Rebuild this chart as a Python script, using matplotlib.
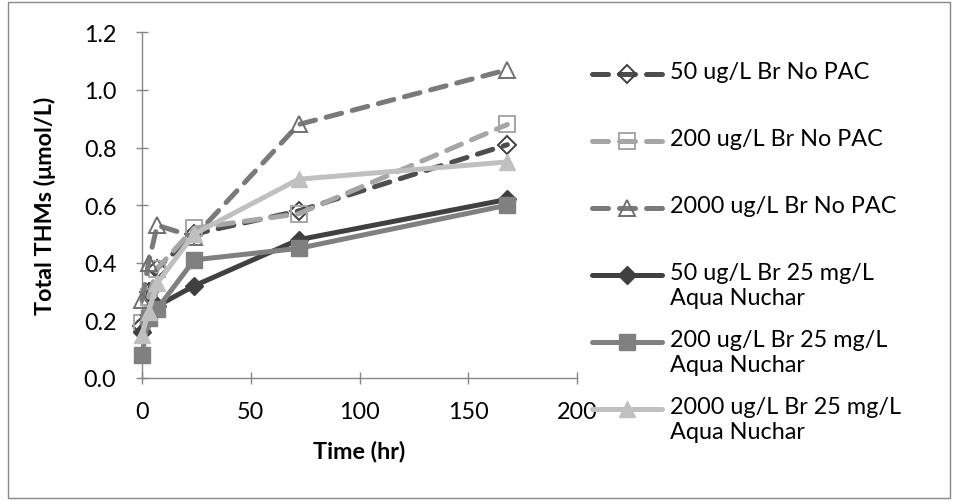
import matplotlib
matplotlib.use("Agg")
import matplotlib.pyplot as plt
from matplotlib.lines import Line2D
from matplotlib.patches import Rectangle

# ---- data ----
time_hr = [0, 3, 7, 24, 72, 168]
labels = [
    "50 ug/L Br No PAC",
    "200 ug/L Br No PAC",
    "2000 ug/L Br No PAC",
    "50 ug/L Br 25 mg/L\nAqua Nuchar",
    "200 ug/L Br 25 mg/L\nAqua Nuchar",
    "2000 ug/L Br 25 mg/L\nAqua Nuchar",
]
br50_nopac = [0.18, 0.30, 0.38, 0.50, 0.58, 0.81]
br200_nopac = [0.19, 0.28, 0.38, 0.52, 0.57, 0.88]
br2000_nopac = [0.27, 0.40, 0.53, 0.49, 0.88, 1.07]
br50_pac = [0.16, 0.22, 0.25, 0.32, 0.48, 0.62]
br200_pac = [0.08, 0.21, 0.24, 0.41, 0.45, 0.60]
br2000_pac = [0.15, 0.23, 0.33, 0.50, 0.69, 0.75]
series = [br50_nopac, br200_nopac, br2000_nopac, br50_pac, br200_pac, br2000_pac]

x_ticks = [0, 50, 100, 150, 200]
y_ticks = [0.0, 0.2, 0.4, 0.6, 0.8, 1.0, 1.2]

# ---- styles ----
styles = [
    dict(color="#4d4d4d", ls=(0, (3.2, 2.2)), marker="D", ms=9, mfc="none", mec="#404040", mew=1.4),
    dict(color="#a6a6a6", ls=(0, (3.2, 2.2)), marker="s", ms=11, mfc="none", mec="#a6a6a6", mew=1.4),
    dict(color="#7a7a7a", ls=(0, (3.2, 2.2)), marker="^", ms=11, mfc="none", mec="#707070", mew=1.4),
    dict(color="#404040", ls="-", marker="D", ms=9, mfc="#404040", mec="#404040", mew=1),
    dict(color="#808080", ls="-", marker="s", ms=11, mfc="#808080", mec="#808080", mew=1),
    dict(color="#c0c0c0", ls="-", marker="^", ms=11, mfc="#c0c0c0", mec="#c0c0c0", mew=1),
]

plt.rcParams["font.family"] = ["Lato", "DejaVu Sans"]
FS = 16.8

W, H = 957, 502
fig = plt.figure(figsize=(W / 100, H / 100), dpi=100)
fig.patch.set_facecolor("white")

def fx(px):
    return px / W

def fy(py):
    return 1 - py / H

# outer border
fig.patches.append(Rectangle((fx(8), fy(499)), fx(950) - fx(8), fy(3) - fy(499),
                             transform=fig.transFigure, fill=False, ec="#888888", lw=1.0))

ax = fig.add_axes([fx(142), fy(379), fx(577) - fx(142), fy(33.3) - fy(379)])
ax.set_xlim(0, 200)
ax.set_ylim(0, 1.2)

for vals, st in zip(series, styles):
    ax.plot(time_hr, vals, color=st["color"], ls=st["ls"], lw=3.6,
            dash_capstyle="round", solid_capstyle="round",
            marker=st["marker"], ms=st["ms"], mfc=st["mfc"], mec=st["mec"], mew=st["mew"],
            clip_on=False, zorder=3)

for s in ["top", "right"]:
    ax.spines[s].set_visible(False)
for s in ["left", "bottom"]:
    ax.spines[s].set_color("#868686")
    ax.spines[s].set_linewidth(1.0)

ax.set_xticks(x_ticks)
ax.set_yticks(y_ticks)
ax.set_yticklabels([f"{v:.1f}" for v in y_ticks])
ax.tick_params(direction="inout", length=9, width=1.0, color="#868686",
               labelsize=FS, labelcolor="black")
ax.tick_params(axis="x", pad=12)
ax.tick_params(axis="y", pad=14)
ax.set_xlabel("Time (hr)", fontsize=FS, fontweight="bold")
ax.set_ylabel("Total THMs (\u03bcmol/L)", fontsize=FS, fontweight="bold")
ax.xaxis.set_label_coords(0.5, (fy(452) - fy(379)) / (fy(33.3) - fy(379)))
ax.yaxis.set_label_coords((fx(45) - fx(142)) / (fx(577) - fx(142)), 0.5)
ax.xaxis.label.set_va("center")
ax.yaxis.label.set_va("center")

# ---- legend (drawn manually) ----
for i, (lab, st) in enumerate(zip(labels, styles)):
    yc = 75 + 67 * i
    x0, x1 = 592, 662
    ln = Line2D([fx(x0), fx(x1)], [fy(yc), fy(yc)], transform=fig.transFigure,
                color=st["color"], ls=st["ls"], lw=3.6,
                dash_capstyle="round", solid_capstyle="round")
    fig.lines.append(ln)
    mk = Line2D([fx((x0 + x1) / 2)], [fy(yc)], transform=fig.transFigure,
                marker=st["marker"], ms=st["ms"], mfc=st["mfc"], mec=st["mec"], mew=st["mew"],
                ls="none")
    fig.lines.append(mk)
    fig.text(fx(670), fy(yc - 13), lab, fontsize=FS, va="top", ha="left",
             linespacing=1.22, color="black")

fig.savefig("out.png", dpi=100, facecolor="white")
